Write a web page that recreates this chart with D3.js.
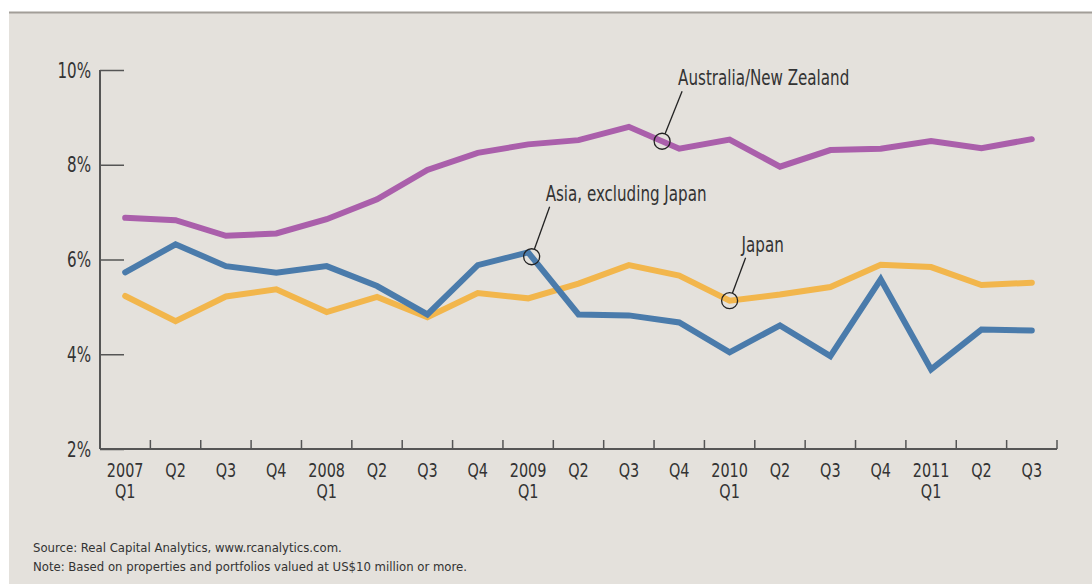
<!DOCTYPE html>
<html>
<head>
<meta charset="utf-8">
<script src="https://cdn.jsdelivr.net/npm/d3@7"></script>
<style>
  body { margin: 0; background: #fff; }
  text { font-family: "DejaVu Sans Condensed", "Liberation Sans Narrow", "Roboto", sans-serif; fill: #333; }
</style>
</head>
<body>
<div id="chart"></div>
<script>
// Data
//==============================================================
var quarters = ["2007|Q1", "Q2", "Q3", "Q4", "2008|Q1", "Q2", "Q3", "Q4", "2009|Q1", "Q2", "Q3", "Q4",
    "2010|Q1", "Q2", "Q3", "Q4", "2011|Q1", "Q2", "Q3"];

var ausNz = [6.88, 6.83, 6.50, 6.55, 6.85, 7.27, 7.89, 8.25, 8.43, 8.52, 8.80, 8.34, 8.53, 7.96, 8.31, 8.34, 8.50, 8.35, 8.54];
var asiaExJapan = [5.73, 6.32, 5.86, 5.72, 5.86, 5.44, 4.84, 5.88, 6.15, 4.84, 4.82, 4.67, 4.04, 4.61, 3.96, 5.58, 3.68, 4.52, 4.50];
var japan = [5.23, 4.70, 5.22, 5.37, 4.89, 5.21, 4.78, 5.29, 5.18, 5.49, 5.88, 5.66, 5.13, 5.26, 5.42, 5.89, 5.84, 5.46, 5.51];

var yTicks = [2, 4, 6, 8, 10];

var series = [
    { name: "Australia/New Zealand", values: ausNz, color: "#aa5fab", at: 10.66, dx: 20, dy: -50 },
    { name: "Asia, excluding Japan", values: asiaExJapan, color: "#4a7bab", at: 8.07, dx: 18, dy: -50 },
    { name: "Japan", values: japan, color: "#f2b64c", at: 12, dx: 16, dy: -43 }
];

// Set up the chart
//==============================================================
var svgWidth = 1092;
var svgHeight = 584;

var margin = { top: 70, right: 35, bottom: 135, left: 100 };
var width = svgWidth - margin.left - margin.right;
var height = svgHeight - margin.top - margin.bottom;

// the reference uses a narrow face; squeeze the installed condensed one a bit more
var squeeze = 0.8;
function place(sel, x, y) {
    return sel.attr("transform", `translate(${x}, ${y}) scale(${squeeze}, 1)`);
}

var svg = d3.select("#chart")
    .append("svg")
    .attr("width", svgWidth)
    .attr("height", svgHeight);

// panel background
svg.append("rect")
    .attr("x", 9).attr("y", 12)
    .attr("width", svgWidth - 9).attr("height", svgHeight - 12)
    .attr("fill", "#e4e1dc");
svg.append("line")
    .attr("x1", 9).attr("x2", svgWidth)
    .attr("y1", 12.5).attr("y2", 12.5)
    .attr("stroke", "#a29e98").attr("stroke-width", 2);

var chartGroup = svg.append("g")
    .attr("transform", `translate(${margin.left}, ${margin.top})`);

// Scales
// ==============================
var xBand = d3.scaleBand().domain(d3.range(quarters.length)).range([0, width]);
var xPos = d3.scaleLinear()
    .domain([0, quarters.length - 1])
    .range([xBand.bandwidth() / 2, width - xBand.bandwidth() / 2]);
var yScale = d3.scaleLinear().domain([2, 10]).range([height, 0]);

// Axes
// ==============================
var axisColor = "#555";

var yAxis = chartGroup.append("g")
    .call(d3.axisRight(yScale).tickValues(yTicks).tickSize(24).tickFormat(""));
yAxis.select(".domain").remove();
yAxis.selectAll("line").attr("stroke", axisColor).attr("stroke-width", 1.5);

chartGroup.append("line")
    .attr("x1", 0).attr("x2", 0)
    .attr("y1", yScale(10)).attr("y2", height)
    .attr("stroke", axisColor).attr("stroke-width", 2);

chartGroup.selectAll(".ylabel")
    .data(yTicks)
    .enter()
    .append("text")
    .attr("class", "ylabel")
    .attr("text-anchor", "end")
    .style("font-size", "21px")
    .each(function(d) { place(d3.select(this), -9, yScale(d) + 7.5); })
    .text(d => d + "%");

// x axis with ticks at quarter boundaries
chartGroup.append("line")
    .attr("x1", 0).attr("x2", width)
    .attr("y1", height).attr("y2", height)
    .attr("stroke", axisColor).attr("stroke-width", 2);

chartGroup.selectAll(".xtick")
    .data(d3.range(1, quarters.length + 1))
    .enter()
    .append("line")
    .attr("class", "xtick")
    .attr("x1", d => xBand.step() * d)
    .attr("x2", d => xBand.step() * d)
    .attr("y1", height)
    .attr("y2", height - 9)
    .attr("stroke", axisColor)
    .attr("stroke-width", 1.5);

chartGroup.selectAll(".xlabel")
    .data(quarters)
    .enter()
    .append("text")
    .attr("class", "xlabel")
    .attr("text-anchor", "middle")
    .style("font-size", "20px")
    .each(function(d, i) {
        var t = d3.select(this);
        place(t, xPos(i), height + 28);
        d.split("|").forEach(function(p, j) {
            t.append("tspan")
                .attr("x", 0)
                .attr("y", j * 21)
                .text(p);
        });
    });

// Lines
// ==============================
var line = d3.line()
    .x((d, i) => xPos(i))
    .y(d => yScale(d));

chartGroup.selectAll(".series")
    .data(series.slice().reverse())
    .enter()
    .append("path")
    .attr("class", "series")
    .attr("d", d => line(d.values))
    .attr("fill", "none")
    .attr("stroke", d => d.color)
    .attr("stroke-width", 6)
    .attr("stroke-linejoin", "miter")
    .attr("stroke-linecap", "round");

// Callouts
// ==============================
series.forEach(function(s) {
    var i0 = Math.floor(s.at);
    var f = s.at - i0;
    var v = s.values[i0] + (s.values[Math.min(i0 + 1, s.values.length - 1)] - s.values[i0]) * f;
    var cx = xPos(s.at);
    var cy = yScale(v);
    var r = 8;
    var ang = Math.atan2(s.dy, s.dx);

    chartGroup.append("circle")
        .attr("cx", cx).attr("cy", cy).attr("r", r)
        .attr("fill", "none")
        .attr("stroke", "#222")
        .attr("stroke-width", 1.3);

    chartGroup.append("line")
        .attr("x1", cx + Math.cos(ang) * r)
        .attr("y1", cy + Math.sin(ang) * r)
        .attr("x2", cx + s.dx)
        .attr("y2", cy + s.dy)
        .attr("stroke", "#222")
        .attr("stroke-width", 1.3);

    var t = chartGroup.append("text")
        .style("font-size", "21px")
        .text(s.name);
    place(t, cx + s.dx - 4, cy + s.dy - 6);
});

// Notes
// ==============================
svg.append("text")
    .attr("x", 33).attr("y", 552)
    .style("font-size", "13px")
    .text("Source: Real Capital Analytics, www.rcanalytics.com.");

svg.append("text")
    .attr("x", 33).attr("y", 571)
    .style("font-size", "13px")
    .text("Note: Based on properties and portfolios valued at US$10 million or more.");
</script>
</body>
</html>
